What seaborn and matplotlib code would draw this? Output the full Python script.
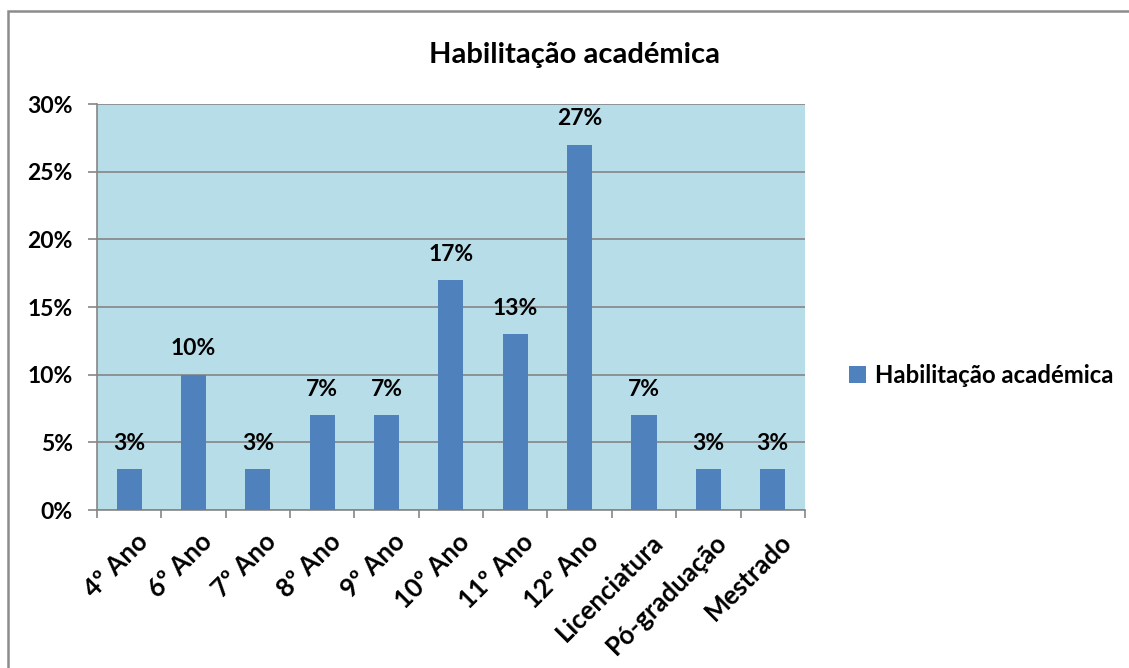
import pandas as pd
import matplotlib.pyplot as plt
import matplotlib.transforms as mtransforms
import seaborn as sns
import numpy as np
from matplotlib.patches import Rectangle

categories = ['4º Ano', '6º Ano', '7º Ano', '8º Ano', '9º Ano', '10º Ano',
              '11º Ano', '12º Ano', 'Licenciatura', 'Pó-graduação', 'Mestrado']
values = [3, 10, 3, 7, 7, 17, 13, 27, 7, 3, 3]
yticks = [0, 5, 10, 15, 20, 25, 30]
series_name = 'Habilitação académica'

sns.set_theme(style='white')
plt.rcParams['font.family'] = ['Lato', 'DejaVu Sans']
plt.rcParams['text.color'] = 'black'
plt.rcParams['xtick.color'] = 'black'
plt.rcParams['ytick.color'] = 'black'

df = pd.DataFrame({'cat': categories, 'val': values, 'serie': series_name})

fig = plt.figure(figsize=(11.29, 6.68), dpi=100)
ax = fig.add_axes([0.0859, 0.2365, 0.627, 0.6078])
ax.set_facecolor('#B7DDE8')

sns.barplot(data=df, x='cat', y='val', hue='serie', palette=['#4F81BD'],
            saturation=1, width=0.39, dodge=False, linewidth=0, ax=ax, zorder=3)

# grid lines like Excel
ax.set_ylim(0, 30)
ax.set_yticks(yticks)
ax.set_yticklabels([f'{t}%' for t in yticks], fontsize=16.5, fontweight='bold')
for t in yticks:
    ax.axhline(t, color='#868686', lw=1.2, zorder=1)

ax.set_xlim(-0.5, len(categories) - 0.5)
ax.set_xticks(range(len(categories)))
ax.set_xticklabels(categories, rotation=45, ha='right', rotation_mode='anchor',
                   fontsize=18.5, fontweight='bold')
ax.tick_params(axis='x', which='major', length=0, pad=14)
# Excel puts the end of the rotated label slightly right of the category centre
shift = mtransforms.ScaledTranslation(4.5 / 72, 0, fig.dpi_scale_trans)
for lab in ax.get_xticklabels():
    lab.set_transform(lab.get_transform() + shift)
ax.set_xticks(np.arange(-0.5, len(categories)), minor=True)
ax.tick_params(axis='x', which='minor', length=6, color='#868686', width=1.2, bottom=True)
ax.tick_params(axis='y', length=6.5, color='#868686', width=1.2, left=True, pad=11)

for s in ['top', 'right']:
    ax.spines[s].set_visible(False)
for s in ['left', 'bottom']:
    ax.spines[s].set_color('#868686')
    ax.spines[s].set_linewidth(1.2)

ax.set_xlabel('')
ax.set_ylabel('')

# data labels
for c in ax.containers:
    ax.bar_label(c, labels=[f'{int(round(v))}%' for v in c.datavalues], padding=11,
                 fontsize=16.5, fontweight='bold', color='black')

fig.text(0.509, 0.918, series_name, ha='center', va='center',
         fontsize=21, fontweight='bold', color='black')

ax.legend(loc='center left', bbox_to_anchor=(1.032, 0.332), frameon=False,
          prop={'size': 17.2, 'weight': 'bold'}, handlelength=0.7, handleheight=0.7,
          handletextpad=0.4)

# outer chart border (only top and left edges are inside the picture)
fig.patches.append(Rectangle((0.0071, -0.05), 1.1, 0.05 + 0.9828,
                             transform=fig.transFigure, fill=False,
                             edgecolor='#8C8C8C', lw=1.8))

fig.savefig('out.png', dpi=100)
